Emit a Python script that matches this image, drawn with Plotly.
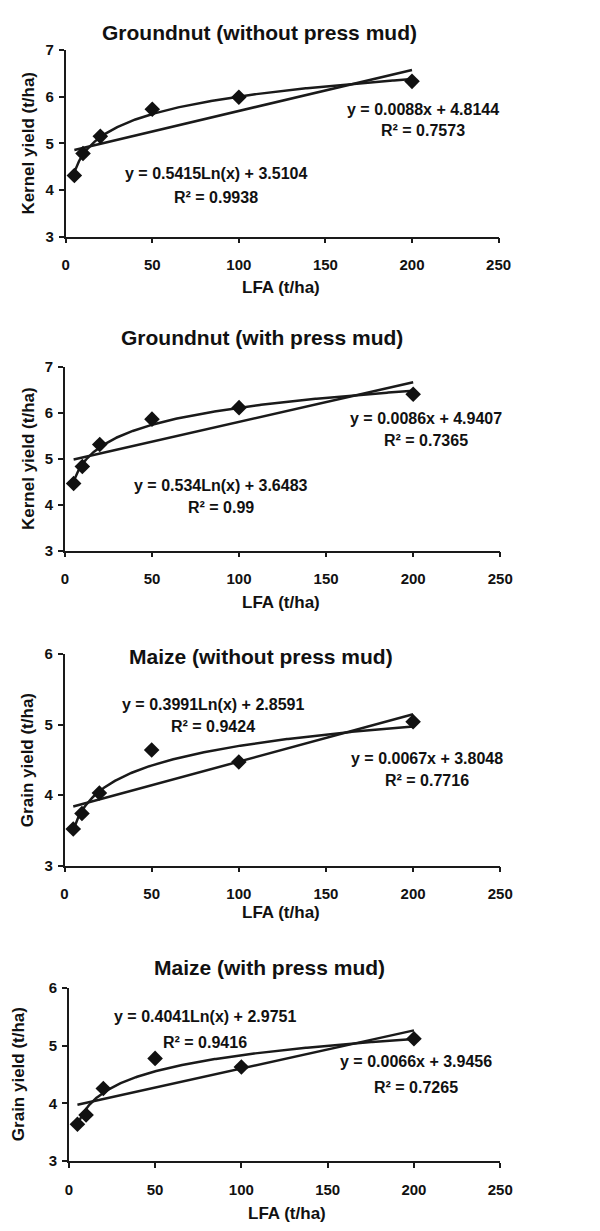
import numpy as np
import plotly.graph_objects as go

# ---------------- data ----------------
lfa = [5, 10, 20, 50, 100, 200]

groundnut_without = [4.31, 4.78, 5.15, 5.73, 5.99, 6.33]
groundnut_with = [4.46, 4.83, 5.31, 5.86, 6.11, 6.40]
maize_without = [3.52, 3.74, 4.03, 4.64, 4.47, 5.04]
maize_with = [3.64, 3.80, 4.26, 4.78, 4.63, 5.12]

panel_titles = [
    "Groundnut (without press mud)",
    "Groundnut (with press mud)",
    "Maize (without press mud)",
    "Maize (with press mud)",
]
y_titles = ["Kernel yield (t/ha)", "Kernel yield (t/ha)",
            "Grain yield (t/ha)", "Grain yield (t/ha)"]
x_title = "LFA (t/ha)"

# displayed trend-line equations (coefficient, intercept)
log_a = [0.5415, 0.534, 0.3991, 0.4041]
log_b = [3.5104, 3.6483, 2.8591, 2.9751]
log_r2 = ["0.9938", "0.99", "0.9424", "0.9416"]
lin_a = [0.0088, 0.0086, 0.0067, 0.0066]
lin_b = [4.8144, 4.9407, 3.8048, 3.9456]
lin_r2 = ["0.7573", "0.7365", "0.7716", "0.7265"]

y_min = [3, 3, 3, 3]
y_max = [7, 7, 6, 6]
x_ticks = [0, 50, 100, 150, 200, 250]

series = [groundnut_without, groundnut_with, maize_without, maize_with]

# ---------------- layout geometry (pixels) ----------------
W, H = 600, 1231
# plot area boxes: left, right, top, bottom
boxes = [
    (63.5, 509.0, 41.7, 230.7),
    (62.7, 510.7, 362.7, 549.3),
    (62.3, 510.7, 654.0, 868.7),
    (66.7, 510.7, 992.7, 1168.3),
]
title_pos = [(263, 23.5), (265.5, 333.5), (265, 656.5), (273, 971.5)]
xtitle_pos = [(285.5, 282.5), (285.5, 601.5), (285.5, 916), (291.5, 1221)]
ytitle_x = [25, 25, 25, 15]
log_eq_pos = [(218.5, 166.7, 190.7), (223.3, 483.3, 505.0),
              (215.3, 705.0, 727.3), (207.0, 1021.7, 1048.3)]
lin_eq_pos = [(431.5, 101.7, 122.7), (434.6, 415.0, 437.3),
              (435.0, 760.0, 782.7), (423.8, 1067.7, 1094.0)]

FONT = "Liberation Sans, Arial, Helvetica, sans-serif"
INK = "#1a1a1a"
TXT = "#111111"


def px(x):
    return x / W


def py(y):
    return 1 - y / H


fig = go.Figure()
annotations = []

f_title = dict(family=FONT, size=21, color=TXT, weight="bold")
f_axis = dict(family=FONT, size=17, color=TXT, weight="bold")
f_eq = dict(family=FONT, size=16, color=TXT, weight="bold")
f_tick = dict(family=FONT, size=15, color=TXT, weight="bold")

for i in range(4):
    l, r, t, b = boxes[i]
    xa = "xaxis" if i == 0 else f"xaxis{i+1}"
    ya = "yaxis" if i == 0 else f"yaxis{i+1}"
    xr = "x" if i == 0 else f"x{i+1}"
    yr = "y" if i == 0 else f"y{i+1}"

    xs = np.linspace(lfa[0], lfa[-1], 300)
    # logarithmic trend line
    fig.add_trace(go.Scatter(x=xs, y=log_a[i] * np.log(xs) + log_b[i], mode="lines",
                             line=dict(color=INK, width=2.5), xaxis=xr, yaxis=yr,
                             showlegend=False, hoverinfo="skip"))
    # linear trend line
    fig.add_trace(go.Scatter(x=[lfa[0], lfa[-1]],
                             y=[lin_a[i] * lfa[0] + lin_b[i], lin_a[i] * lfa[-1] + lin_b[i]],
                             mode="lines", line=dict(color=INK, width=2.5),
                             xaxis=xr, yaxis=yr, showlegend=False, hoverinfo="skip"))
    # observed points
    fig.add_trace(go.Scatter(x=lfa, y=series[i], mode="markers",
                             marker=dict(symbol="diamond", size=12, color=TXT),
                             xaxis=xr, yaxis=yr, showlegend=False))

    fig.layout[xa] = dict(
        domain=[px(l), px(r)], anchor=yr, range=[0, 250], tickvals=x_ticks,
        showgrid=False, zeroline=False, showline=True, linecolor=INK, linewidth=1.5,
        ticks="outside", ticklen=5, tickcolor=INK, tickwidth=1.5,
        ticklabelstandoff=9, tickfont=f_tick,
    )
    fig.layout[ya] = dict(
        domain=[py(b), py(t)], anchor=xr, range=[y_min[i], y_max[i]], dtick=1,
        showgrid=False, zeroline=False, showline=True, linecolor=INK, linewidth=1.5,
        ticks="outside", ticklen=5, tickcolor=INK, tickwidth=1.5,
        ticklabelstandoff=2, tickfont=f_tick,
    )

    common = dict(xref="paper", yref="paper", showarrow=False,
                  xanchor="center", yanchor="middle")
    annotations.append(dict(text=panel_titles[i], x=px(title_pos[i][0]),
                            y=py(title_pos[i][1]), font=f_title, **common))
    annotations.append(dict(text=x_title, x=px(xtitle_pos[i][0]),
                            y=py(xtitle_pos[i][1]), font=f_axis, **common))
    annotations.append(dict(text=y_titles[i], x=px(ytitle_x[i]), y=py((t + b) / 2),
                            textangle=-90, font=f_axis, **common))
    annotations.append(dict(text=f"y = {log_a[i]}Ln(x) + {log_b[i]:.4f}",
                            x=px(log_eq_pos[i][0]), y=py(log_eq_pos[i][1]),
                            font=f_eq, **common))
    annotations.append(dict(text=f"R² = {log_r2[i]}",
                            x=px(log_eq_pos[i][0]), y=py(log_eq_pos[i][2]),
                            font=f_eq, **common))
    annotations.append(dict(text=f"y = {lin_a[i]}x + {lin_b[i]:.4f}",
                            x=px(lin_eq_pos[i][0]), y=py(lin_eq_pos[i][1]),
                            font=f_eq, **common))
    annotations.append(dict(text=f"R² = {lin_r2[i]}",
                            x=px(lin_eq_pos[i][0]), y=py(lin_eq_pos[i][2]),
                            font=f_eq, **common))

fig.update_layout(
    width=W, height=H, margin=dict(l=0, r=0, t=0, b=0),
    paper_bgcolor="white", plot_bgcolor="white",
    annotations=annotations, showlegend=False,
)

fig.write_html(
    "out.html",
    config={"displayModeBar": False},
    post_script="document.body.style.margin='0';document.body.style.overflow='hidden';",
)
